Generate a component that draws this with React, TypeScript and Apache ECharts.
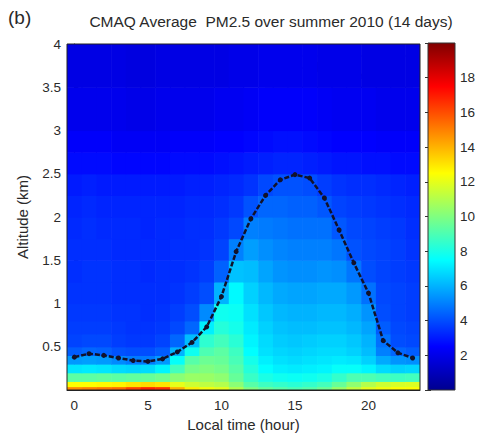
import React, { useEffect, useRef } from "react";
import * as echarts from "echarts";

// ---- data ----
const HOURS = [0, 1, 2, 3, 4, 5, 6, 7, 8, 9, 10, 11, 12, 13, 14, 15, 16, 17, 18, 19, 20, 21, 22, 23];
// altitude layer edges (km)
const LAYER_EDGES = [0, 0.04, 0.1, 0.2, 0.3, 0.4, 0.5, 0.65, 0.8, 1.0, 1.25, 1.5, 1.75, 2.0, 2.25, 2.5, 2.75, 3.0, 3.5, 4.0];
// PM2.5 (ug/m3) per layer (bottom -> top), per hour 0..23
const PM25 = [
  [14.8, 15.0, 15.2, 15.4, 16.2, 16.8, 16.5, 14.0, 12.8, 12.3, 12.0, 11.0, 10.0, 9.5, 9.2, 9.0, 9.2, 9.6, 10.5, 11.3, 12.0, 12.3, 12.5, 12.5],
  [12.5, 12.5, 12.6, 12.7, 13.0, 13.2, 13.0, 12.0, 11.5, 11.2, 11.0, 10.2, 9.2, 8.7, 8.5, 8.3, 8.5, 8.8, 9.5, 10.3, 11.0, 11.5, 11.7, 11.8],
  [9.3, 9.3, 9.4, 9.3, 9.4, 9.5, 9.7, 10.2, 10.5, 10.5, 10.3, 9.5, 8.6, 8.0, 7.8, 7.7, 7.8, 8.0, 8.5, 9.0, 9.0, 8.8, 8.7, 8.8],
  [7.0, 7.1, 7.0, 6.8, 6.7, 6.8, 7.3, 8.8, 9.8, 10.0, 9.8, 9.2, 8.2, 7.5, 7.2, 7.1, 7.2, 7.3, 7.6, 7.6, 7.3, 6.8, 6.6, 6.7],
  [5.5, 5.6, 5.5, 5.2, 4.9, 4.9, 5.5, 7.6, 9.2, 9.6, 9.5, 8.9, 7.9, 7.2, 6.9, 6.8, 6.9, 7.0, 7.1, 7.0, 6.6, 5.8, 5.4, 5.3],
  [4.3, 4.5, 4.4, 4.1, 4.0, 4.0, 4.3, 6.0, 7.8, 9.0, 9.3, 8.7, 7.5, 6.9, 6.7, 6.6, 6.7, 6.8, 6.8, 6.6, 6.2, 5.0, 4.5, 4.3],
  [3.8, 3.9, 3.9, 3.7, 3.6, 3.6, 3.8, 4.5, 6.2, 8.4, 8.8, 8.3, 7.3, 6.8, 6.5, 6.4, 6.5, 6.6, 6.6, 6.4, 6.0, 4.7, 4.0, 3.9],
  [3.7, 3.7, 3.7, 3.6, 3.5, 3.5, 3.6, 3.9, 4.5, 7.2, 8.2, 7.9, 7.1, 6.6, 6.3, 6.2, 6.2, 6.3, 6.3, 6.1, 5.7, 4.3, 3.9, 3.8],
  [3.6, 3.6, 3.6, 3.5, 3.5, 3.4, 3.5, 3.7, 4.0, 5.2, 7.8, 7.7, 6.9, 6.4, 6.1, 6.0, 6.0, 6.1, 6.1, 5.9, 5.4, 4.0, 3.8, 3.7],
  [3.5, 3.5, 3.5, 3.4, 3.4, 3.4, 3.4, 3.5, 3.7, 4.0, 6.0, 7.4, 6.6, 6.1, 5.8, 5.7, 5.7, 5.8, 5.8, 5.5, 4.7, 3.9, 3.8, 3.7],
  [3.4, 3.5, 3.5, 3.4, 3.4, 3.3, 3.4, 3.4, 3.5, 3.7, 4.4, 6.3, 6.2, 5.7, 5.4, 5.3, 5.3, 5.4, 5.3, 4.8, 4.0, 3.8, 3.7, 3.6],
  [3.4, 3.4, 3.4, 3.3, 3.3, 3.3, 3.3, 3.4, 3.4, 3.5, 3.8, 5.0, 5.6, 5.3, 5.1, 5.0, 5.0, 5.0, 4.8, 4.1, 3.9, 3.8, 3.7, 3.5],
  [3.3, 3.4, 3.3, 3.3, 3.3, 3.2, 3.3, 3.3, 3.4, 3.4, 3.6, 3.9, 5.0, 4.9, 4.8, 4.7, 4.7, 4.7, 4.2, 3.9, 3.8, 3.7, 3.6, 3.4],
  [3.2, 3.3, 3.2, 3.2, 3.2, 3.2, 3.2, 3.2, 3.3, 3.3, 3.4, 3.6, 4.1, 4.5, 4.5, 4.4, 4.4, 4.2, 3.8, 3.7, 3.6, 3.5, 3.4, 3.3],
  [3.0, 3.1, 3.0, 3.0, 3.0, 3.0, 3.0, 3.0, 3.1, 3.1, 3.2, 3.3, 3.5, 3.9, 4.1, 4.1, 4.0, 3.7, 3.5, 3.4, 3.4, 3.3, 3.2, 3.1],
  [2.7, 2.7, 2.7, 2.6, 2.6, 2.6, 2.6, 2.7, 2.7, 2.7, 2.8, 2.9, 3.0, 3.1, 3.2, 3.2, 3.1, 3.0, 2.9, 2.9, 2.8, 2.8, 2.7, 2.7],
  [2.4, 2.4, 2.4, 2.3, 2.3, 2.3, 2.3, 2.4, 2.4, 2.4, 2.5, 2.5, 2.6, 2.7, 2.8, 2.8, 2.7, 2.6, 2.5, 2.5, 2.5, 2.4, 2.4, 2.4],
  [2.1, 2.1, 2.1, 2.1, 2.0, 2.0, 2.1, 2.1, 2.1, 2.1, 2.2, 2.2, 2.3, 2.4, 2.4, 2.4, 2.4, 2.3, 2.2, 2.2, 2.2, 2.1, 2.1, 2.1],
  [1.9, 1.9, 1.9, 1.9, 1.8, 1.8, 1.9, 1.9, 1.9, 1.9, 1.9, 2.0, 2.0, 2.1, 2.1, 2.1, 2.1, 2.0, 2.0, 2.0, 1.9, 1.9, 1.9, 1.9],
];
// PBL height (km), MYJ 2010
const PBL = [0.38, 0.42, 0.40, 0.37, 0.34, 0.33, 0.36, 0.44, 0.55, 0.73, 1.08, 1.6, 1.98, 2.25, 2.43, 2.49, 2.45, 2.22, 1.85, 1.47, 1.12, 0.57, 0.43, 0.37];
const X_TICKS = [0, 5, 10, 15, 20];
const Y_TICKS = [0.5, 1, 1.5, 2, 2.5, 3, 3.5, 4];
const CB_MIN = 0;
const CB_MAX = 20;
const JET = ["#00008f", "#0000ff", "#0080ff", "#00ffff", "#80ff80", "#ffff00", "#ff8000", "#ff0000", "#800000"];

// ---- layout ----
const W = 481, H = 439;
const PL = 67, PR = 420, PT = 44, PB = 390;
const CL = 428, CR = 455, CT = 43, CBt = 390;
const FONT = "'Liberation Sans', Arial, sans-serif";
const TXT = "#2a2a2a";
const LINE_C = "#12122a";

export default function App() {
  const ref = useRef<HTMLDivElement>(null);
  useEffect(() => {
    if (!ref.current) return;
    const chart = echarts.init(ref.current, null, { renderer: "svg" });
    const cells: number[][] = [];
    PM25.forEach((row, li) => {
      row.forEach((v, hi) => {
        cells.push([HOURS[hi], LAYER_EDGES[li], LAYER_EDGES[li + 1], v]);
      });
    });
    const labelStyle = { color: TXT, fontFamily: FONT, fontSize: 13.5 };
    const nameStyle = { color: TXT, fontFamily: FONT, fontSize: 15 };
    const option: any = {
      animation: false,
      backgroundColor: "#ffffff",
      grid: [
        { left: PL, top: PT, width: PR - PL, height: PB - PT },
        { left: CL, top: CT, width: CR - CL, height: CBt - CT },
      ],
      xAxis: [
        {
          type: "value", gridIndex: 0, min: -0.5, max: 23.5,
          axisLine: { show: true, lineStyle: { color: "#222" } },
          axisTick: { show: true, inside: true, length: 4, customValues: X_TICKS, lineStyle: { color: "#222" } },
          axisLabel: { ...labelStyle, margin: 8, customValues: X_TICKS },
          splitLine: { show: false },
          name: "Local time (hour)", nameLocation: "middle", nameGap: 27,
          nameTextStyle: nameStyle,
        },
        { type: "value", gridIndex: 1, show: false, min: 0, max: 1 },
      ],
      yAxis: [
        {
          type: "value", gridIndex: 0, min: 0, max: 4,
          axisLine: { show: true, lineStyle: { color: "#222" } },
          axisTick: { show: true, inside: true, length: 4, customValues: Y_TICKS, lineStyle: { color: "#222" } },
          axisLabel: { ...labelStyle, margin: 6, customValues: Y_TICKS },
          splitLine: { show: false },
          name: "Altitude (km)", nameLocation: "middle", nameGap: 37, nameRotate: 90,
          nameTextStyle: nameStyle,
        },
        {
          type: "value", gridIndex: 1, min: CB_MIN, max: CB_MAX, interval: 2, position: "right",
          axisLine: { show: false },
          axisTick: { show: true, inside: true, length: 3, lineStyle: { color: "#333" } },
          axisLabel: {
            ...labelStyle, margin: 5,
            formatter: (v: number) => (v === CB_MIN || v === CB_MAX ? "" : String(v)),
          },
          splitLine: { show: false },
        },
        {
          type: "value", gridIndex: 1, min: CB_MIN, max: CB_MAX, interval: 2, position: "left",
          axisLine: { show: false },
          axisTick: { show: true, inside: true, length: 3, lineStyle: { color: "#333" } },
          axisLabel: { show: false },
          splitLine: { show: false },
        },
      ],
      visualMap: {
        show: false, type: "continuous", min: CB_MIN, max: CB_MAX, dimension: 3, seriesIndex: 0,
        inRange: { color: JET },
      },
      series: [
        {
          type: "custom", xAxisIndex: 0, yAxisIndex: 0, data: cells,
          encode: { x: [0], y: [1, 2] },
          clip: true,
          renderItem: (params: any, api: any) => {
            const h = api.value(0), y0 = api.value(1), y1 = api.value(2);
            const a = api.coord([h - 0.5, y1]);
            const b = api.coord([h + 0.5, y0]);
            return {
              type: "rect",
              shape: { x: a[0], y: a[1], width: b[0] - a[0] + 0.6, height: b[1] - a[1] + 0.6 },
              style: { fill: api.visual("color"), stroke: null },
            };
          },
        },
        {
          type: "line", xAxisIndex: 0, yAxisIndex: 0,
          data: HOURS.map((h, i) => [h, PBL[i]]),
          lineStyle: { color: LINE_C, width: 2.5, type: [5, 2] },
          itemStyle: { color: LINE_C },
          symbol: "circle", symbolSize: 5, z: 5,
        },
        {
          type: "custom", xAxisIndex: 1, yAxisIndex: 1, data: [[0.5, 10]],
          renderItem: (params: any) => {
            const cs = params.coordSys;
            return {
              type: "rect",
              shape: { x: cs.x, y: cs.y, width: cs.width, height: cs.height },
              style: {
                fill: new echarts.graphic.LinearGradient(0, 1, 0, 0,
                  JET.map((c, i) => ({ offset: i / (JET.length - 1), color: c }))),
                stroke: "#333", lineWidth: 1,
              },
            };
          },
          z: 1,
        },
      ],
      graphic: [
        { type: "rect", z: 100, silent: true, shape: { x: PL, y: PT, width: PR - PL, height: PB - PT }, style: { fill: "none", stroke: "#222", lineWidth: 1 } },
        { type: "text", left: 8, top: 8, style: { text: "(b)", fontFamily: FONT, fontSize: 19, fill: TXT } },
        { type: "text", x: 271, y: 21, style: { text: "CMAQ Average  PM2.5 over summer 2010 (14 days)", fontFamily: FONT, fontSize: 15.5, fill: TXT, align: "center", verticalAlign: "middle" } },
        {
          type: "group", z: 110,
          children: [
            { type: "rect", shape: { x: 265, y: 56, width: 148, height: 31 }, style: { fill: "#ffffff", stroke: "#444", lineWidth: 0.8 } },
            { type: "line", shape: { x1: 272, y1: 68, x2: 310, y2: 68 }, style: { stroke: LINE_C, lineWidth: 1 } },
            { type: "circle", shape: { cx: 291, cy: 68, r: 2.2 }, style: { fill: LINE_C } },
            { type: "text", x: 316, y: 67, style: { text: "PBL", fontFamily: FONT, fontSize: 14.5, fill: TXT, verticalAlign: "middle" } },
            { type: "text", x: 349, y: 75, style: { text: "MYJ 2010", fontFamily: FONT, fontSize: 10.5, fill: "#444", verticalAlign: "middle" } },
          ],
        },
      ],
    };
    chart.setOption(option);
    return () => chart.dispose();
  }, []);
  return <div ref={ref} style={{ position: "absolute", left: 0, top: 0, width: W, height: H }} />;
}
